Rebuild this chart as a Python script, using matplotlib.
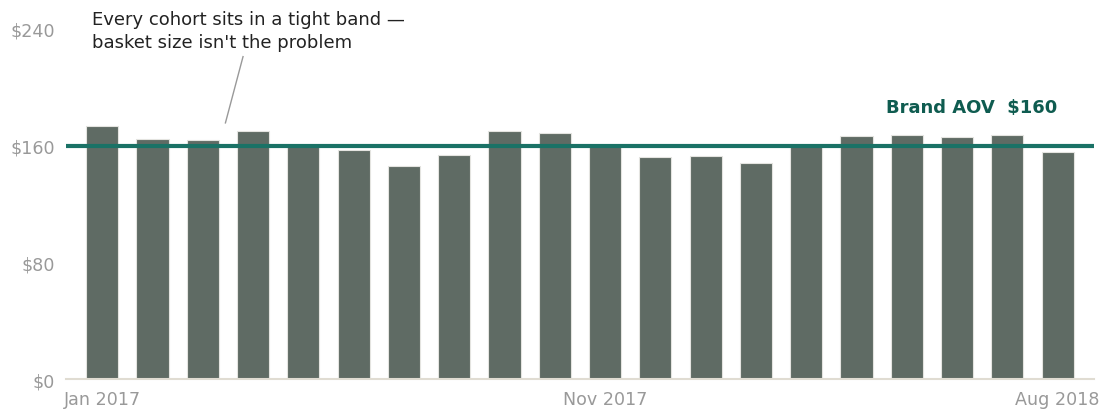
import numpy as np
import matplotlib.pyplot as plt
plt.rcParams['font.family'] = ['DejaVu Sans']

# monthly cohorts Jan 2017 .. Aug 2018
months = ['Jan 2017', 'Feb 2017', 'Mar 2017', 'Apr 2017', 'May 2017', 'Jun 2017', 'Jul 2017',
          'Aug 2017', 'Sep 2017', 'Oct 2017', 'Nov 2017', 'Dec 2017', 'Jan 2018', 'Feb 2018',
          'Mar 2018', 'Apr 2018', 'May 2018', 'Jun 2018', 'Jul 2018', 'Aug 2018']
aov = [173.7, 164.8, 163.7, 170.1, 160.5, 157.3, 146.3, 153.8, 169.8, 168.9,
       160.3, 152.3, 152.7, 148.1, 159.5, 166.9, 167.6, 166.2, 167.6, 155.4]
brand_aov = 160
yticks = [0, 80, 160, 240]
shown_months = [0, 10, 19]

fig = plt.figure(figsize=(11.06, 4.1), dpi=100)
ax = fig.add_axes([0.0597, 0.073, 0.9293, 0.854])

x = np.arange(len(aov))
ax.bar(x, aov, width=0.64, color='#5f6b64', edgecolor='#e4e4e0', linewidth=0.8, zorder=2)
ax.axhline(brand_aov, color='#1a7266', linewidth=3, zorder=3)
ax.text(19, 186.5, 'Brand AOV  $%d' % brand_aov, ha='right', va='center',
        fontsize=13, fontweight='bold', color='#0f5c50')

ax.text(-0.2, 253, 'Every cohort sits in a tight band —\nbasket size isn\'t the problem',
        ha='left', va='top', fontsize=13, color='#222222', linespacing=1.35, clip_on=False)
ax.plot([2.8, 2.45], [221, 175.6], color='#999999', linewidth=1, clip_on=False)

ax.set_xlim(-0.72, 19.72)
ax.set_ylim(0, 240)
ax.set_yticks(yticks)
ax.set_yticklabels(['$%d' % v for v in yticks])
ax.set_xticks(shown_months)
ax.set_xticklabels([months[i] for i in shown_months])
ax.tick_params(length=0, labelsize=12.6, labelcolor='#999999')
ax.tick_params(axis='x', pad=8)
ax.tick_params(axis='y', pad=8)
for s in ['top', 'right', 'left']:
    ax.spines[s].set_visible(False)
ax.spines['bottom'].set_color('#e0dcd2')
ax.spines['bottom'].set_linewidth(1.5)

fig.savefig('out.png', dpi=100)
